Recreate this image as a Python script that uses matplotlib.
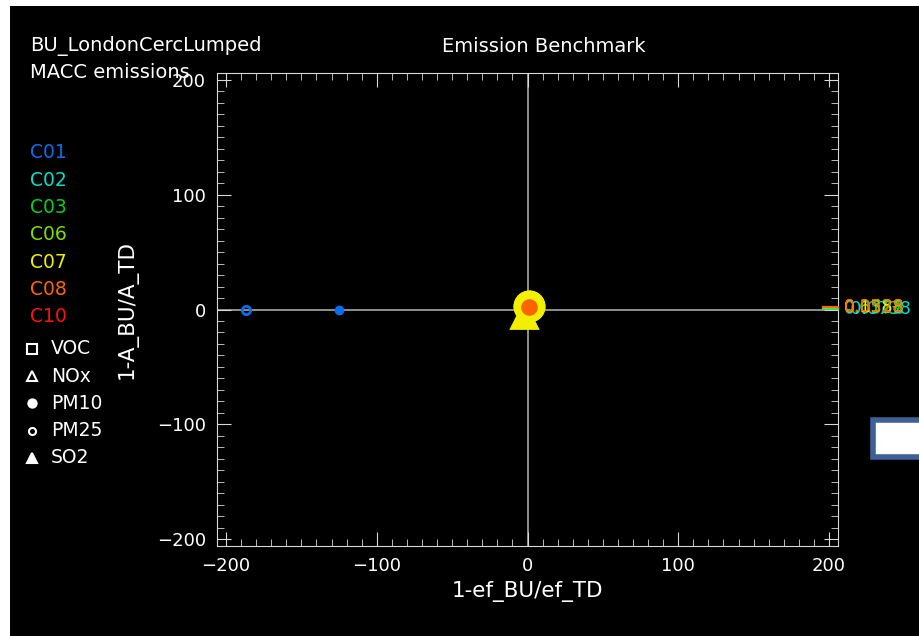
import matplotlib.pyplot as plt
from matplotlib.patches import Rectangle
from matplotlib.ticker import MultipleLocator
from matplotlib.lines import Line2D

# sector legend
sectors = ['C01', 'C02', 'C03', 'C06', 'C07', 'C08', 'C10']
sector_colors = ['#0a6cf0', '#00e0c8', '#00d21e', '#7ae000', '#f0f000', '#ff6400', '#ff1010']

# pollutant legend
pollutants = ['VOC', 'NOx', 'PM10', 'PM25', 'SO2']
poll_markers = ['s', '^', 'o', 'o', '^']
poll_filled = [False, False, True, False, True]
poll_sizes = [9, 9, 7, 6, 9]

# plotted points: sector, pollutant, x, y
pt_sector = ['C01', 'C01', 'C07', 'C07', 'C07', 'C08']
pt_poll = ['PM25', 'PM10', 'PM10', 'SO2', 'PM25', 'PM10']
pt_x = [-187, -125, 1, -2, 1, 1]
pt_y = [0, 0, 3, -5, 3, 2]
pt_size = [6, 5, 21, 19, 21, 10]

# off-scale points drawn at right border with value labels
off_sector = ['C01', 'C02', 'C03', 'C06', 'C07', 'C08']
off_y = [0.3, 0.8, 1.2, 1.6, 2.0, 2.4]
off_label = ['0.0572', '-0.0738', '0.0721', '0.6338', '0.1588', '0.0528']

col = dict(zip(sectors, sector_colors))
pidx = {p: i for i, p in enumerate(pollutants)}

fig = plt.figure(figsize=(9.19, 6.36), dpi=100)
fig.patch.set_facecolor('black')
# white strips on the left and top edges
fig.add_artist(Rectangle((0, 0), 10 / 919, 1, transform=fig.transFigure,
                         facecolor='white', edgecolor='none', zorder=-1))
fig.add_artist(Rectangle((0, 1 - 6 / 636), 1, 6 / 636, transform=fig.transFigure,
                         facecolor='white', edgecolor='none', zorder=-1))

ax = fig.add_axes([217 / 919, 1 - 546 / 636, 621 / 919, 473 / 636])
ax.set_facecolor('black')
ax.set_xlim(-206, 206)
ax.set_ylim(-206, 206)

fg = '#d8d8d8'
for s in ax.spines.values():
    s.set_color(fg)
ax.xaxis.set_major_locator(MultipleLocator(100))
ax.yaxis.set_major_locator(MultipleLocator(100))
ax.xaxis.set_minor_locator(MultipleLocator(10))
ax.yaxis.set_minor_locator(MultipleLocator(10))
ax.tick_params(which='both', direction='in', top=True, right=True, colors=fg,
               labelcolor='white', labelsize=13, pad=8)
ax.tick_params(which='major', length=10)
ax.tick_params(which='minor', length=5)
ax.set_xlabel('1-ef_BU/ef_TD', color='white', fontsize=15.5, labelpad=4)
ax.set_ylabel('1-A_BU/A_TD', color='white', fontsize=15.5, labelpad=14)

ax.axhline(0, color='#a8a8a8', lw=1.2, zorder=1)
ax.axvline(0, color='#a8a8a8', lw=1.2, zorder=1)

for s, p, x, y, ms in zip(pt_sector, pt_poll, pt_x, pt_y, pt_size):
    i = pidx[p]
    c = col[s]
    ax.plot(x, y, marker=poll_markers[i], ms=ms, color=c,
            mfc=c if poll_filled[i] else 'none', mec=c, mew=2, ls='none', zorder=3)

for s, y, lab in zip(off_sector, off_y, off_label):
    c = col[s]
    ax.plot([196, 206], [y, y], color=c, lw=1.5, clip_on=False, zorder=4)
    ax.text(210, y, lab, color=c, fontsize=12.5, ha='left', va='center',
            clip_on=False)

# titles
fig.text(30 / 919, 1 - 46 / 636, 'BU_LondonCercLumped', color='white', fontsize=14, va='center')
fig.text(30 / 919, 1 - 73 / 636, 'MACC emissions', color='white', fontsize=14, va='center')
fig.text(544 / 919, 1 - 46 / 636, 'Emission Benchmark', color='white', fontsize=14,
         va='center', ha='center')

# sector legend
for k, (s, c) in enumerate(zip(sectors, sector_colors)):
    fig.text(30 / 919, 1 - (153 + 27.3 * k) / 636, s, color=c, fontsize=13.5, va='center')

# pollutant legend
for k, p in enumerate(pollutants):
    yy = 1 - (349 + 27.2 * k) / 636
    fig.add_artist(Line2D([32 / 919], [yy], marker=poll_markers[k], ms=poll_sizes[k] * 0.85,
                          color='white', mfc='white' if poll_filled[k] else 'none',
                          mec='white', mew=1.5, ls='none', transform=fig.transFigure))
    fig.text(51 / 919, yy, p, color='white', fontsize=13.5, va='center')

# white box with blue frame at the right edge
fig.add_artist(Rectangle((873 / 919, 1 - 457 / 636), 60 / 919, 37 / 636,
                         transform=fig.transFigure, facecolor='white',
                         edgecolor='#3d6196', lw=4))

fig.savefig('out.png', dpi=100, facecolor=fig.get_facecolor())
